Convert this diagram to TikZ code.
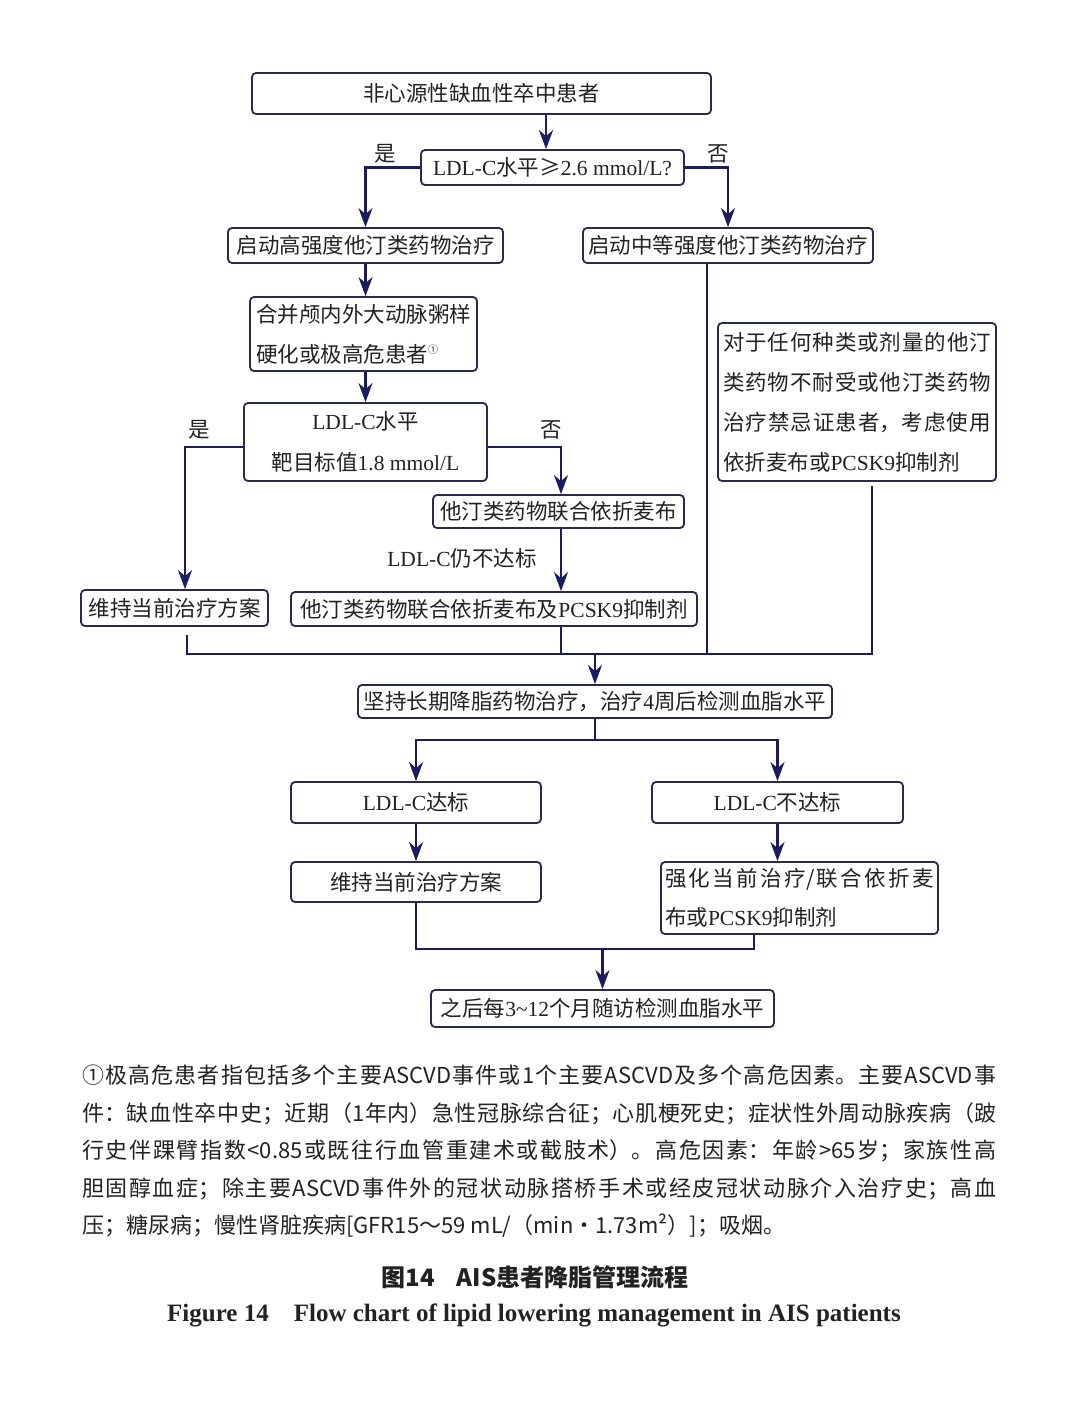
\documentclass[tikz,border=0pt]{standalone}
\usepackage{fontspec}
\setmainfont{Noto Sans CJK SC}
\newfontfamily\tm{Liberation Serif}
\usetikzlibrary{arrows.meta}
\XeTeXlinebreaklocale "zh"
\XeTeXlinebreakskip=0pt plus 4pt
\definecolor{boxc}{HTML}{2A2A4C}
\definecolor{linec}{HTML}{1C1C5C}
\definecolor{txt}{HTML}{222222}
\newcommand\fs{\fontsize{21.5}{40}\selectfont}
\newcommand\LatinT[1]{{\tm #1}}
\begin{document}
\begin{tikzpicture}[x=1pt,y=-1pt,
  box/.style={draw=boxc, line width=1.8pt, rounded corners=4pt, inner sep=0pt, font=\fs, text=txt},
  arr/.style={draw=linec, line width=2.2pt, -{Stealth[length=19pt,width=14pt,inset=6pt]}},
  ln/.style={draw=linec, line width=2.2pt},
  lab/.style={font=\fs, inner sep=0pt, text=txt},
  foot/.style={font=\fontsize{22}{37.5}\selectfont, inner sep=0pt, text=txt, anchor=base west}]
\useasboundingbox[fill=white] (0,0) rectangle (1080,1410);

% boxes
\node[box,minimum width=459pt,minimum height=41pt] (top) at (481.5,93.5) {非心源性缺血性卒中患者};
\node[box,minimum width=263pt,minimum height=35pt] (q1) at (552.5,167.5) {\LatinT{LDL-C}水平≥\LatinT{2.6 mmol/L?}};
\node[box,minimum width=275pt,minimum height=35pt] (high) at (365.5,245.5) {启动高强度他汀类药物治疗};
\node[box,minimum width=290pt,minimum height=35pt] (mod) at (728,245.5) {启动中等强度他汀类药物治疗};
\node[box,minimum width=227pt,minimum height=74pt,text width=215pt,align=left] (comb) at (363.5,334) {合并颅内外大动脉粥样\\硬化或极高危患者\raisebox{9pt}{\fontsize{10}{10}\selectfont ①}};
\node[box,minimum width=243pt,minimum height=78pt,align=center] (tgt) at (365.5,442) {\LatinT{LDL-C}水平\\[1pt]靶目标值\LatinT{1.8 mmol/L}};
\node[box,minimum width=251pt,minimum height=33pt] (eze) at (558.5,511.5) {他汀类药物联合依折麦布};
\node[box,minimum width=406pt,minimum height=34pt] (pcsk) at (494,609) {他汀类药物联合依折麦布及\LatinT{PCSK9}抑制剂};
\node[box,minimum width=187pt,minimum height=36pt] (keep1) at (174.5,608) {维持当前治疗方案};
\node[box,minimum width=278pt,minimum height=158pt] (intol) at (857,402) {\parbox{268pt}{\parskip=0pt\parfillskip=0pt 对于任何种类或剂量的他汀\par 类药物不耐受或他汀类药物\par 治疗禁忌证患者，考虑使用\par\parfillskip=0pt plus 1fil 依折麦布或\LatinT{PCSK9}抑制剂\par}};
\node[box,minimum width=474pt,minimum height=33pt] (long) at (595,701.5) {坚持长期降脂药物治疗，治疗\LatinT{4}周后检测血脂水平};
\node[box,minimum width=250pt,minimum height=41pt] (ok) at (416,802.5) {\LatinT{LDL-C}达标};
\node[box,minimum width=251pt,minimum height=41pt] (nok) at (777.5,802.5) {\LatinT{LDL-C}不达标};
\node[box,minimum width=250pt,minimum height=40pt] (keep2) at (416,882) {维持当前治疗方案};
\node[box,minimum width=277pt,minimum height=72pt] (intens) at (799.5,898) {\parbox{269pt}{\fontsize{21.5}{39}\selectfont\parskip=0pt\parfillskip=0pt 强化当前治疗/联合依折麦\par\parfillskip=0pt plus 1fil 布或\LatinT{PCSK9}抑制剂\par}};
\node[box,minimum width=343pt,minimum height=37pt] (fu) at (602.5,1008.5) {之后每\LatinT{3\textasciitilde12}个月随访检测血脂水平};

% labels
\node[lab] (y1) at (385,154) {是};
\node[lab] (n1) at (718,154) {否};
\node[lab] (y2) at (199,430) {是};
\node[lab] (n2) at (551,430) {否};
\node[lab] (still) at (462,558) {\LatinT{LDL-C}仍不达标};

% helper coordinates
\coordinate (c546) at (546,0);
\coordinate (c185) at (185,0);
\coordinate (c187) at (187,0);
\coordinate (c561) at (561,0);
\coordinate (c707) at (707,0);
\coordinate (c872) at (872,0);
\coordinate (c754) at (754,0);
\coordinate (yj) at (0,447);
\coordinate (ym) at (0,654);
\coordinate (yb) at (0,740);
\coordinate (yc) at (0,949);

% connectors
\draw[arr] (top.south -| c546) -- (q1.north -| c546);
\draw[arr] (q1.west) -| (high.north);
\draw[arr] (q1.east) -| (mod.north);
\draw[arr] (high.south) -- (high.south |- comb.north);
\draw[arr] (tgt.north |- comb.south) -- (tgt.north);
\draw[arr] (tgt.west |- yj) -| (keep1.north -| c185);
\draw[arr] (tgt.east |- yj) -| (eze.north -| c561);
\draw[arr] (eze.south -| c561) -- (pcsk.north -| c561);

\path (keep1.south -| c187) ++(0,8) coordinate (k1b);
\path (intol.south -| c872) ++(0,4) coordinate (ib);
\draw[ln] (k1b) -- (c187 |- ym) -- (c872 |- ym) -- (ib);
\draw[ln] (pcsk.south -| c561) -- (c561 |- ym);
\draw[ln] (mod.south -| c707) -- (c707 |- ym);
\draw[arr] (long.north |- ym) -- (long.north);

\draw[ln] (long.south) -- (long.south |- yb);
\draw[arr] (long.south |- yb) -| (ok.north);
\draw[arr] (long.south |- yb) -| (nok.north);
\draw[arr] (ok.south) -- (keep2.north);
\draw[arr] (nok.south) -- (nok.south |- intens.north);
\draw[ln] (keep2.south) -- (keep2.south |- yc) -- (c754 |- yc) -- (intens.south -| c754);
\draw[arr] (fu.north |- yc) -- (fu.north);

% footnote
\node[foot] (f1) at (82,1083) {\parbox[t]{914pt}{\parskip=0pt\parfillskip=0pt ①极高危患者指包括多个主要ASCVD事件或1个主要ASCVD及多个高危因素。主要ASCVD事\par}};
\node[foot] (f2) at (82,1121) {\parbox[t]{914pt}{\parskip=0pt\parfillskip=0pt 件：缺血性卒中史；近期（1年内）急性冠脉综合征；心肌梗死史；症状性外周动脉疾病（跛\par}};
\node[foot] (f3) at (82,1158) {\parbox[t]{914pt}{\parskip=0pt\parfillskip=0pt 行史伴踝臂指数<0.85或既往行血管重建术或截肢术）。高危因素：年龄>65岁；家族性高\par}};
\node[foot] (f4) at (82,1196) {\parbox[t]{914pt}{\parskip=0pt\parfillskip=0pt 胆固醇血症；除主要ASCVD事件外的冠状动脉搭桥手术或经皮冠状动脉介入治疗史；高血\par}};
\node[foot] (f5) at (82,1233) {压；糖尿病；慢性肾脏疾病[GFR15～59 mL/（min·1.73m²）]；吸烟。};

% caption
\node[inner sep=0pt, text=txt, font=\fontsize{24}{28}\selectfont\bfseries] (cap1) at (535,1277) {图14\hspace{22pt}AIS患者降脂管理流程};
\node[inner sep=0pt, text=txt, font=\tm\bfseries\fontsize{25}{29}\selectfont] (cap2) at (534,1315) {Figure 14\hspace{25pt}Flow chart of lipid lowering management in AIS patients};
\end{tikzpicture}
\end{document}
